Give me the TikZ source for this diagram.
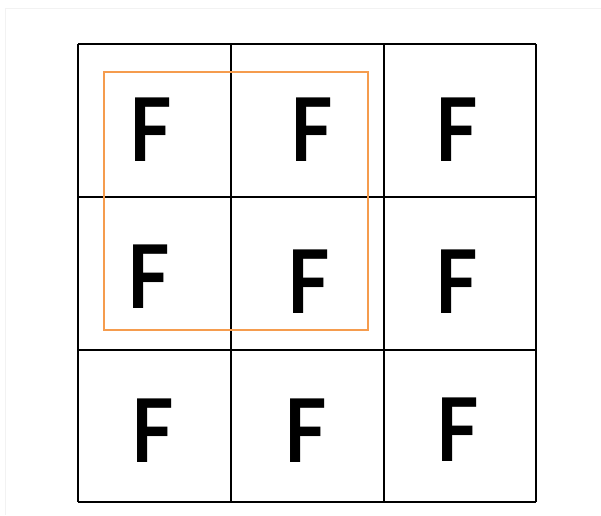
\documentclass[tikz,border=0pt]{standalone}
\usepackage{fontspec}
\newfontfamily\letterfont{Lato}
\usetikzlibrary{positioning}
\definecolor{framegrey}{HTML}{F2F2F2}
\definecolor{poolorange}{HTML}{F59C4E}

\begin{document}
\begin{tikzpicture}[
    x=1pt, y=-1pt,
    every node/.style={inner sep=0pt},
    cellline/.style={draw=black, line width=1.6pt},
    poolbox/.style={draw=poolorange, line width=2.2pt},
    letter/.style={font=\letterfont\bfseries\fontsize{88}{88}\selectfont,
                   xscale=0.85, transform shape},
]
\useasboundingbox (0,0) rectangle (601,515);

% --- faint outer frame ---
\draw[framegrey, line width=1pt] (5,515) -- (5,8) -- (601,8);

% --- 3x3 grid ---
\foreach \gx in {78,231,384,536}{
  \draw[cellline] (\gx,44) -- (\gx,502);
}
\foreach \gy in {44,197,350,502}{
  \draw[cellline] (78,\gy) -- (536,\gy);
}

% --- letters, one per cell ---
\node[letter] (f11) at (151,130) {F};
\node[letter] (f12) at (312,130) {F};
\node[letter] (f13) at (457,130) {F};
\node[letter] (f21) at (149,277) {F};
\node[letter] (f22) at (309,282) {F};
\node[letter] (f23) at (457,282) {F};
\node[letter] (f31) at (153,431) {F};
\node[letter] (f32) at (306,431) {F};
\node[letter] (f33) at (458,430) {F};

% --- orange 2x2 window ---
\draw[poolbox] (104,72) rectangle (368,330);

\end{tikzpicture}
\end{document}
